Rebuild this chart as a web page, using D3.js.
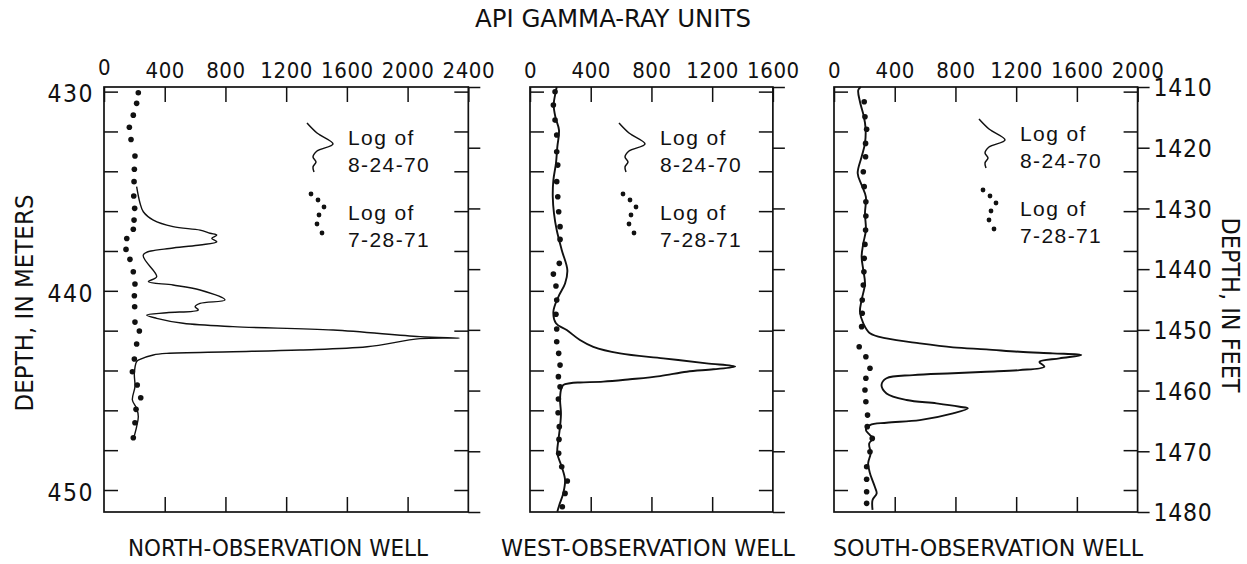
<!DOCTYPE html>
<html>
<head>
<meta charset="utf-8">
<script src="https://cdn.jsdelivr.net/npm/d3@7"></script>
<style>
  html, body { margin: 0; padding: 0; background: #fff; }
  svg { display: block; }
  .cond { font-family: "DejaVu Sans Condensed", "DejaVu Sans", sans-serif; font-stretch: condensed; fill: #111; }
  .legend { font-family: "Liberation Sans", Arial, sans-serif; fill: #111; }
</style>
</head>
<body>
<svg id="chart" width="1247" height="564"></svg>
<script>
// ---- data -----------------------------------------------------------------
const FT_TO_M = 0.3048;
const depthRangeFt = [1410, 1480];
const meterTicks = d3.range(430, 451, 2);
const meterLabels = [430, 440, 450];
const feetTicks = d3.range(1410, 1481, 10);

const wellNames = ["NORTH-OBSERVATION WELL", "WEST-OBSERVATION WELL", "SOUTH-OBSERVATION WELL"];
const apiMax = [2400, 1600, 2000];
const apiTicks = [d3.range(0, 2401, 400), d3.range(0, 1601, 400), d3.range(0, 2001, 400)];
const legendLog1 = ["Log of", "8-24-70"];
const legendLog2 = ["Log of", "7-28-71"];

// gamma-ray logs as [depth in meters, API units]
const northLog1970 = [
  [434.77,215],[435.59,237],[436.03,259],[436.45,325],[436.78,455],[436.95,633],[437.11,699],
  [437.20,743],[437.37,710],[437.54,743],[437.70,633],[437.85,455],[438.20,259],[439.29,347],
  [439.54,292],[439.71,455],[439.96,633],[440.46,797],[440.63,633],[440.80,600],[440.96,621],
  [441.10,413],[441.22,281],[441.38,347],[441.63,521],[441.80,850],[441.97,1509],[442.30,2082],
  [442.37,2340],[442.40,2082],[442.81,1733],[442.97,1292],[443.06,850],[443.14,413],[443.22,325],
  [443.44,237],[443.56,215],[444.14,200],[444.81,204],[445.48,187],[445.90,215],[446.32,226],
  [446.82,215],[447.33,198]
];
const northLog1971 = [
  [430.06,226],[430.59,215],[431.18,193],[431.79,167],[432.40,178],[433.23,204],[433.90,200],
  [434.52,198],[435.24,196],[435.86,202],[436.45,198],[436.91,193],[437.37,150],[437.92,145],
  [438.42,171],[439.04,193],[439.66,204],[440.25,200],[440.80,202],[441.57,204],[442.02,233],
  [442.67,215],[443.42,200],[444.06,187],[444.73,219],[445.37,242],[445.95,211],[446.62,204],
  [447.38,193]
];
const westLog1970 = [
  [429.77,176],[430.06,168],[430.67,156],[431.30,168],[431.93,191],[432.77,180],[433.60,171],
  [434.44,154],[435.28,150],[436.11,158],[436.95,176],[437.95,209],[438.96,246],[439.63,231],
  [440.30,187],[441.05,154],[441.63,171],[441.97,242],[442.47,329],[442.81,417],[443.14,593],
  [443.39,878],[443.64,1164],[443.80,1351],[443.94,1208],[444.06,1033],[444.28,857],[444.44,659],
  [444.56,483],[444.60,329],[444.64,264],[444.73,219],[444.98,204],[445.48,198],[446.15,204],
  [446.82,198],[447.49,187],[448.16,180],[448.83,209],[449.50,231],[450.17,219],[450.75,193],
  [451.09,180]
];
const westLog1971 = [
  [430.01,165],[430.67,154],[431.43,165],[432.18,176],[433.02,176],[433.69,183],[434.52,176],
  [435.28,183],[436.03,189],[436.78,198],[437.42,198],[438.62,193],[439.16,154],[439.76,171],
  [440.46,176],[441.18,171],[441.92,176],[442.56,176],[443.14,189],[443.73,198],[444.31,187],
  [444.82,198],[445.43,187],[446.12,185],[446.82,193],[447.46,191],[448.16,189],[448.83,209],
  [449.55,246],[450.17,231],[450.84,213]
];
const southLog1970 = [
  [429.77,177],[429.92,160],[430.51,171],[431.26,197],[431.84,208],[432.60,204],[433.27,182],
  [434.10,156],[434.69,182],[435.28,210],[436.11,204],[436.95,210],[437.62,193],[438.29,182],
  [438.96,193],[439.63,204],[440.46,182],[441.05,171],[441.63,193],[442.13,237],[442.39,346],
  [442.64,565],[442.84,784],[442.94,1003],[443.06,1222],[443.14,1441],[443.22,1629],[443.39,1485],
  [443.57,1353],[443.81,1386],[443.98,1222],[444.06,1003],[444.14,784],[444.23,521],[444.39,346],
  [444.73,313],[445.15,346],[445.48,478],[445.65,675],[445.82,828],[445.90,882],[446.15,784],
  [446.49,565],[446.62,346],[446.74,237],[446.99,210],[447.24,237],[447.41,258],[447.66,232],
  [448.16,241],[448.66,225],[449.16,237],[449.84,269],[450.17,281],[450.50,254],[451.00,254]
];
const southLog1971 = [
  [430.51,199],[431.26,204],[431.89,215],[432.60,208],[433.27,208],[434.02,193],[434.77,199],
  [435.53,210],[436.25,210],[436.95,208],[437.67,204],[438.37,199],[439.04,197],[439.71,193],
  [440.46,186],[441.13,186],[441.80,182],[442.81,166],[443.31,210],[443.89,237],[444.39,210],
  [444.98,204],[445.57,210],[446.24,221],[446.82,219],[447.41,252],[448.08,237],[448.83,215],
  [449.46,215],[450.09,215],[450.67,215]
];
const logs1970 = [northLog1970, westLog1970, southLog1970];
const logs1971 = [northLog1971, westLog1971, southLog1971];

// ---- layout ---------------------------------------------------------------
const panelLeft = [104, 530, 834];
const pxPerApi = 0.1518;
const plotTop = 87, plotBottom = 512;
const lineWidths = [1.4, 1.9, 1.9];
const legendAnchor = [[348, 145], [660, 145], [1020, 141]];
const titleCenter = [278, 648, 988];
const titleLength = [300, 294, 310];
const intFormat = d3.format("d");

const svg = d3.select("#chart");

const yFeet = d3.scaleLinear().domain(depthRangeFt).range([plotTop, plotBottom]);
const yMeters = d3.scaleLinear()
  .domain(depthRangeFt.map(f => f * FT_TO_M))
  .range([plotTop, plotBottom]);

function styleAxis(g) {
  g.attr("font-size", null).attr("font-family", null);
  g.select(".domain").remove();
  g.selectAll(".tick line").attr("stroke", "#111").attr("stroke-width", 1.5);
  g.selectAll("text").attr("fill", "#111");
}

// small legend glyphs: a wiggly trace and a column of dots
const wiggleGlyph = [[-41,-22],[-31,-12],[-15,-1],[-31,6],[-35,12],[-32,17],[-35,22],[-34,27]];
const dotGlyph = [[-37,-26],[-30,-20],[-24,-13],[-29,-5],[-31,4],[-26,13]];

wellNames.forEach((name, i) => {
  const left = panelLeft[i];
  const x = d3.scaleLinear().domain([0, apiMax[i]]).range([left, left + apiMax[i] * pxPerApi]);
  const right = x(apiMax[i]);
  const panel = svg.append("g").attr("class", "panel");

  // top axis with API labels, ticks pointing inward
  const topAxis = panel.append("g")
    .attr("transform", `translate(0,${plotTop})`)
    .call(d3.axisTop(x).tickValues(apiTicks[i]).tickFormat(intFormat)
      .tickSize(-15).tickSizeOuter(0).tickPadding(9));
  styleAxis(topAxis);
  topAxis.selectAll("text")
    .attr("class", "cond")
    .style("font-size", "22px")
    .style("letter-spacing", "0.6px");
  if (i === 0) {
    topAxis.selectAll(".tick").filter(d => d === 0).select("text").attr("y", -12);
  }

  // bottom ticks
  const bottomAxis = panel.append("g")
    .attr("transform", `translate(0,${plotBottom})`)
    .call(d3.axisBottom(x).tickValues(apiTicks[i].slice(1, -1)).tickSize(-15).tickSizeOuter(0).tickFormat(""));
  styleAxis(bottomAxis);

  // left depth ticks (meters)
  const leftAxis = panel.append("g")
    .attr("transform", `translate(${left},0)`)
    .call(d3.axisLeft(yMeters).tickValues(meterTicks).tickSize(-14).tickSizeOuter(0).tickPadding(10)
      .tickFormat(d => (i === 0 && meterLabels.includes(d)) ? intFormat(d) : ""));
  styleAxis(leftAxis);
  leftAxis.selectAll("text")
    .attr("class", "cond")
    .attr("dy", "0.42em")
    .style("font-size", "24.5px")
    .style("letter-spacing", "1.5px");

  // right depth ticks: meters inward, feet outward
  const rightMeters = panel.append("g")
    .attr("transform", `translate(${right},0)`)
    .call(d3.axisRight(yMeters).tickValues(meterTicks).tickSize(-14).tickSizeOuter(0).tickFormat(""));
  styleAxis(rightMeters);

  const rightFeet = panel.append("g")
    .attr("transform", `translate(${right},0)`)
    .call(d3.axisRight(yFeet).tickValues(feetTicks).tickSize(12).tickSizeOuter(0).tickPadding(4)
      .tickFormat(d => i === 2 ? intFormat(d) : ""));
  styleAxis(rightFeet);
  rightFeet.selectAll("text")
    .attr("class", "cond")
    .attr("dy", "0.36em")
    .style("font-size", "24.5px")
    .style("letter-spacing", "0.7px");

  // frame
  panel.append("rect")
    .attr("x", left).attr("y", plotTop)
    .attr("width", right - left).attr("height", plotBottom - plotTop)
    .attr("fill", "none").attr("stroke", "#111").attr("stroke-width", 1.7);

  // 8-24-70 log as a continuous trace
  const line = d3.line()
    .x(d => x(d[1]))
    .y(d => yMeters(d[0]))
    .curve(d3.curveCatmullRom.alpha(0.5));
  panel.append("path")
    .datum(logs1970[i])
    .attr("d", line)
    .attr("fill", "none")
    .attr("stroke", "#111")
    .attr("stroke-width", lineWidths[i])
    .attr("stroke-linejoin", "round");

  // 7-28-71 log as dots
  panel.append("g").selectAll("circle")
    .data(logs1971[i])
    .join("circle")
    .attr("cx", d => x(d[1]))
    .attr("cy", d => yMeters(d[0]))
    .attr("r", 2.8)
    .attr("fill", "#111");

  // legend
  const [lx, ly] = legendAnchor[i];
  const leg = panel.append("g").attr("transform", `translate(${lx},${ly})`);
  leg.append("path")
    .attr("d", d3.line().curve(d3.curveCatmullRom.alpha(0.5))(wiggleGlyph))
    .attr("fill", "none").attr("stroke", "#111").attr("stroke-width", 1.5);
  leg.append("g").selectAll("circle")
    .data(dotGlyph)
    .join("circle")
    .attr("cx", d => d[0]).attr("cy", d => d[1] + 75)
    .attr("r", 2.4).attr("fill", "#111");
  const legendLines = [[legendLog1[0], 0], [legendLog1[1], 27], [legendLog2[0], 75], [legendLog2[1], 102]];
  leg.selectAll("text.legend")
    .data(legendLines)
    .join("text")
    .attr("class", "legend")
    .attr("x", 0).attr("y", d => d[1])
    .style("font-size", "21px")
    .style("letter-spacing", "1.4px")
    .text(d => d[0]);

  // well name
  svg.append("text")
    .attr("class", "cond")
    .attr("x", titleCenter[i]).attr("y", 556)
    .attr("text-anchor", "middle")
    .attr("textLength", titleLength[i])
    .attr("lengthAdjust", "spacingAndGlyphs")
    .style("font-size", "23px")
    .text(name);
});

// axis titles
svg.append("text")
  .attr("class", "cond")
  .attr("x", 613).attr("y", 27)
  .attr("text-anchor", "middle")
  .attr("textLength", 276)
  .attr("lengthAdjust", "spacingAndGlyphs")
  .style("font-size", "24px")
  .text("API GAMMA-RAY UNITS");

svg.append("text")
  .attr("class", "cond")
  .attr("transform", "translate(33,303) rotate(-90)")
  .attr("text-anchor", "middle")
  .attr("textLength", 217)
  .attr("lengthAdjust", "spacingAndGlyphs")
  .style("font-size", "24px")
  .text("DEPTH, IN METERS");

svg.append("text")
  .attr("class", "cond")
  .attr("transform", "translate(1222,305) rotate(90)")
  .attr("text-anchor", "middle")
  .attr("textLength", 175)
  .attr("lengthAdjust", "spacingAndGlyphs")
  .style("font-size", "24px")
  .text("DEPTH, IN FEET");
</script>
</body>
</html>
